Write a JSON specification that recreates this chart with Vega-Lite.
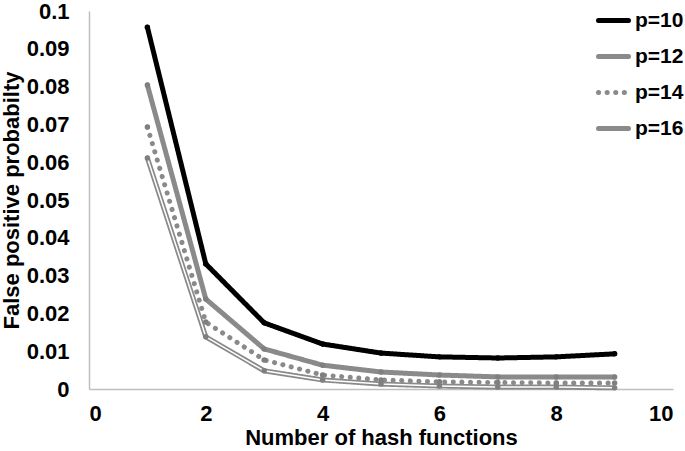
{
  "$schema": "https://vega.github.io/schema/vega-lite/v6.json",
  "width": 584,
  "height": 378,
  "autosize": {"type": "none"},
  "padding": {"left": 89, "top": 11, "right": 12, "bottom": 62},
  "background": "white",
  "config": {
    "view": {"stroke": null},
    "font": "Liberation Sans",
    "axis": {"labelFont": "Liberation Sans", "titleFont": "Liberation Sans", "labelFontWeight": "bold", "titleFontWeight": "bold", "labelColor": "#000", "titleColor": "#000", "grid": false, "ticks": false, "domainColor": "#bfbfbf", "domainWidth": 1.5}
  },
  "data": {"values": [
    {"k": 1, "p": "p=10", "fpp": 0.0957}, {"k": 2, "p": "p=10", "fpp": 0.0331}, {"k": 3, "p": "p=10", "fpp": 0.0175}, {"k": 4, "p": "p=10", "fpp": 0.0119}, {"k": 5, "p": "p=10", "fpp": 0.0095}, {"k": 6, "p": "p=10", "fpp": 0.0085}, {"k": 7, "p": "p=10", "fpp": 0.0082}, {"k": 8, "p": "p=10", "fpp": 0.0085}, {"k": 9, "p": "p=10", "fpp": 0.0093},
    {"k": 1, "p": "p=12", "fpp": 0.0804}, {"k": 2, "p": "p=12", "fpp": 0.0238}, {"k": 3, "p": "p=12", "fpp": 0.0106}, {"k": 4, "p": "p=12", "fpp": 0.0063}, {"k": 5, "p": "p=12", "fpp": 0.0045}, {"k": 6, "p": "p=12", "fpp": 0.0037}, {"k": 7, "p": "p=12", "fpp": 0.0032}, {"k": 8, "p": "p=12", "fpp": 0.0032}, {"k": 9, "p": "p=12", "fpp": 0.0032},
    {"k": 1, "p": "p=14", "fpp": 0.0693}, {"k": 2, "p": "p=14", "fpp": 0.0177}, {"k": 3, "p": "p=14", "fpp": 0.0077}, {"k": 4, "p": "p=14", "fpp": 0.0037}, {"k": 5, "p": "p=14", "fpp": 0.0024}, {"k": 6, "p": "p=14", "fpp": 0.0019}, {"k": 7, "p": "p=14", "fpp": 0.0017}, {"k": 8, "p": "p=14", "fpp": 0.0016}, {"k": 9, "p": "p=14", "fpp": 0.0016},
    {"k": 1, "p": "p=16", "fpp": 0.0611}, {"k": 2, "p": "p=16", "fpp": 0.0138}, {"k": 3, "p": "p=16", "fpp": 0.0048}, {"k": 4, "p": "p=16", "fpp": 0.0024}, {"k": 5, "p": "p=16", "fpp": 0.0013}, {"k": 6, "p": "p=16", "fpp": 0.0008}, {"k": 7, "p": "p=16", "fpp": 0.0005}, {"k": 8, "p": "p=16", "fpp": 0.0005}, {"k": 9, "p": "p=16", "fpp": 0.0003}
  ]},
  "encoding": {
    "x": {"field": "k", "type": "quantitative", "scale": {"domain": [0, 10], "nice": false}, "axis": {"values": [0, 2, 4, 6, 8, 10], "title": "Number of hash functions", "labelFontSize": 22, "titleFontSize": 22, "labelPadding": 14, "titlePadding": 3}},
    "y": {"field": "fpp", "type": "quantitative", "scale": {"domain": [0, 0.1], "nice": false}, "axis": {"values": [0, 0.01, 0.02, 0.03, 0.04, 0.05, 0.06, 0.07, 0.08, 0.09, 0.1], "format": "~g", "title": "False positive probabilty", "labelFontSize": 22, "titleFontSize": 22, "labelPadding": 20, "titlePadding": 3}}
  },
  "layer": [
    {
      "mark": {"type": "line", "strokeCap": "round", "strokeJoin": "round"},
      "encoding": {
        "color": {"field": "p", "type": "nominal", "scale": {"domain": ["p=10", "p=12", "p=14", "p=16"], "range": ["#000000", "#8a8a8a", "#8a8a8a", "#8a8a8a"]},
          "legend": {"title": null, "orient": "none", "legendX": 507, "legendY": -8, "labelFont": "Liberation Sans", "labelFontSize": 21, "labelFontWeight": "bold", "labelColor": "#000", "symbolType": "stroke", "symbolSize": 900, "rowPadding": 8, "labelOffset": 4,
            "encode": {"symbols": {"update": {"strokeCap": {"value": "round"}}}}}},
        "strokeDash": {"field": "p", "type": "nominal", "scale": {"domain": ["p=10", "p=12", "p=14", "p=16"], "range": [[1, 0], [1, 0], [0.1, 8.5], [1, 0]]}},
        "strokeWidth": {"field": "p", "type": "nominal", "scale": {"domain": ["p=10", "p=12", "p=14", "p=16"], "range": [5, 5, 5, 4.5]}}
      }
    },
    {
      "transform": [{"filter": "datum.p === 'p=16'"}],
      "mark": {"type": "line", "color": "white", "strokeWidth": 1.5},
      "encoding": {}
    },
    {
      "mark": {"type": "point", "filled": true, "opacity": 1, "size": 30},
      "encoding": {
        "color": {"condition": {"test": "datum.p === 'p=10'", "value": "#000000"}, "value": "#7f7f7f"}
      }
    }
  ]
}
